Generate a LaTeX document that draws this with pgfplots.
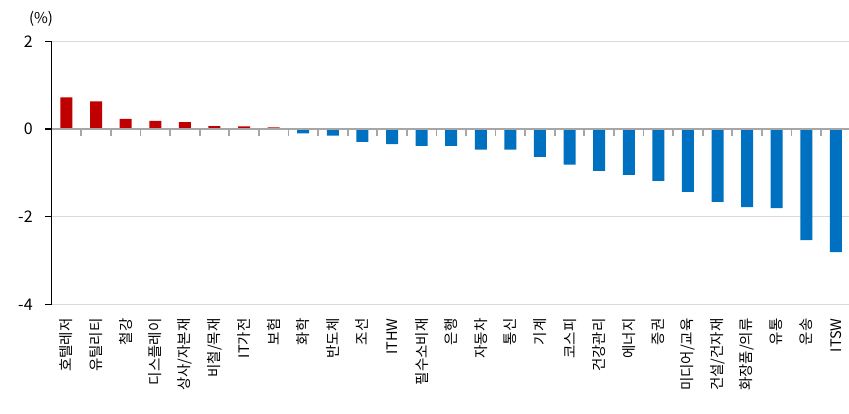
\documentclass[border=0pt]{standalone}
\usepackage{fontspec}
\setmainfont{Noto Sans CJK KR}
\usepackage{pgfplots}
\pgfplotsset{compat=1.18}

\definecolor{upred}{HTML}{C00000}
\definecolor{downblue}{HTML}{0070C0}
\definecolor{gridgray}{HTML}{D9D9D9}
\definecolor{zerogray}{HTML}{A6A6A6}

\begin{document}
\begin{tikzpicture}
\useasboundingbox (0,0) rectangle (849pt,414pt);
\pgfplotsset{
  common/.style={
    at={(51.7pt,109.3pt)}, anchor=south west,
    scale only axis, width=799pt, height=263.4pt,
    xmin=-0.5, xmax=26.5, ymin=-4, ymax=2,
  }
}
\begin{axis}[
  common,
  axis y line=left, axis x line=bottom,
  x axis line style={draw=none},
  y axis line style={black, line width=1.2pt, -},
  ytick={-4,-2,0,2},
  ymajorgrids, grid style={gridgray, line width=1.2pt},
  ytick style={black, line width=1.2pt},
  tick align=outside, major tick length=6.5pt,
  yticklabel style={font=\fontsize{16}{17}\selectfont, xshift=-9pt},
  /pgf/number format/assume math mode=true,
  xtick={0,...,26}, xtick style={draw=none},
  xticklabels={호텔레저,유틸리티,철강,디스플레이,상사/자본재,비철/목재,IT가전,보험,화학,반도체,조선,ITHW,필수소비재,은행,자동차,통신,기계,코스피,건강관리,에너지,증권,미디어/교육,건설/건자재,화장품/의류,유통,운송,ITSW},
  xticklabel style={rotate=90, anchor=east, font=\fontsize{14.5}{15}\selectfont, inner sep=1pt, xshift=-6pt},
  ybar, bar width=12pt,
]
\addplot[fill=upred, draw=none, bar shift=0pt] coordinates {
  (0,0.72) (1,0.63) (2,0.23) (3,0.19) (4,0.16) (5,0.07) (6,0.06) (7,0.04)
};
\addplot[fill=downblue, draw=none, bar shift=0pt] coordinates {
  (8,-0.10) (9,-0.15) (10,-0.29) (11,-0.34) (12,-0.38) (13,-0.38)
  (14,-0.47) (15,-0.47) (16,-0.63) (17,-0.81) (18,-0.95) (19,-1.04)
  (20,-1.18) (21,-1.43) (22,-1.66) (23,-1.78) (24,-1.80) (25,-2.53) (26,-2.80)
};
\end{axis}
\begin{axis}[
  common,
  axis x line=middle, axis y line=none,
  axis line style={zerogray, line width=1.4pt, -},
  xtick={0.5,1.5,...,25.5}, xticklabels={},
  tick align=outside, major tick length=7pt,
  xtick style={zerogray, line width=1.8pt},
]
\end{axis}
\node[font=\fontsize{15}{16}\selectfont] at (41pt,395pt) {(\%)};
\end{tikzpicture}
\end{document}
